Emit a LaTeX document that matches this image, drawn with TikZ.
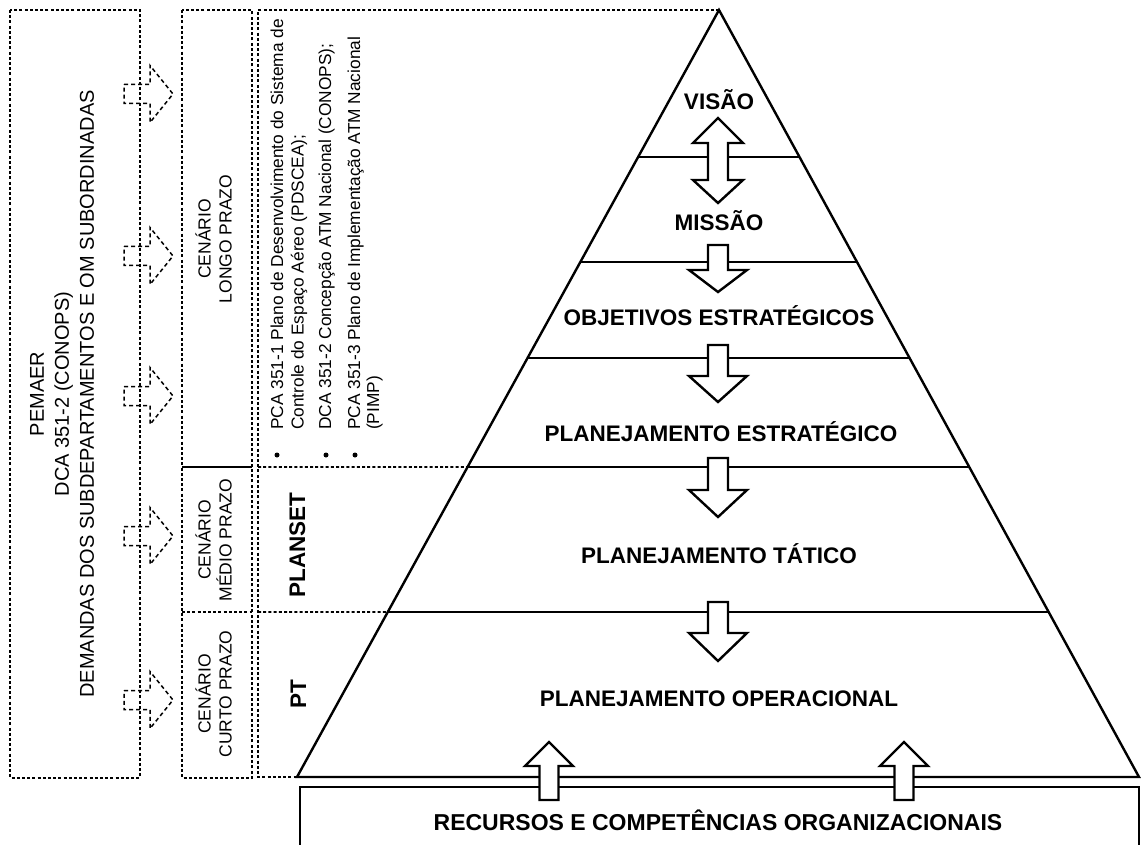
\documentclass[tikz,border=0pt]{standalone}
\usepackage{fontspec}
\setmainfont{Liberation Sans}
\usetikzlibrary{calc}

\tikzset{
  dotline/.style={line width=1.6pt, dash pattern=on 3pt off 2.2pt},
  dasharrow/.style={line width=1.5pt, dash pattern=on 4pt off 3pt},
  solidline/.style={line width=2.4pt},
  blockarrow/.style={line width=2.4pt, fill=white},
  tierlabel/.style={font=\bfseries\fontsize{22.5}{27}\selectfont, inner sep=0pt, text height=16.1pt, text depth=0pt},
  baselabel/.style={font=\bfseries\fontsize{23}{27}\selectfont, inner sep=0pt, text height=16.5pt, text depth=0pt},
  plantext/.style={tierlabel, rotate=90},
  sidetext/.style={font=\fontsize{20}{25}\selectfont, rotate=90, align=center, inner sep=0pt},
  scentext/.style={font=\fontsize{17.5}{21}\selectfont, rotate=90, align=center, inner sep=0pt},
  doclist/.style={font=\fontsize{17.3}{20}\selectfont, rotate=90, anchor=base west, inner sep=0pt},
  listdot/.style={circle, fill, inner sep=0pt, minimum size=5pt}
}

\begin{document}
\begin{tikzpicture}[x=1pt,y=-1pt]
\useasboundingbox (0,0) rectangle (1141,845);

% columns on the left
\draw[dotline] (10,10) rectangle (140,778);
\draw[dotline] (182,10) rectangle (252,778);
\draw[solidline, line width=1.8pt] (182,467) -- (252,467);
\draw[dotline] (182,612) -- (252,612);

% pyramid
\coordinate (apex) at (719,10);
\coordinate (bl) at (297,777);
\coordinate (br) at (1139,777);
\coordinate (t1l) at ($(apex)!0.19166!(bl)$);
\coordinate (t1r) at ($(apex)!0.19166!(br)$);
\coordinate (t2l) at ($(apex)!0.32855!(bl)$);
\coordinate (t2r) at ($(apex)!0.32855!(br)$);
\coordinate (t3l) at ($(apex)!0.45372!(bl)$);
\coordinate (t3r) at ($(apex)!0.45372!(br)$);
\coordinate (t4l) at ($(apex)!0.59583!(bl)$);
\coordinate (t4r) at ($(apex)!0.59583!(br)$);
\coordinate (t5l) at ($(apex)!0.78488!(bl)$);
\coordinate (t5r) at ($(apex)!0.78488!(br)$);

\draw[dotline] (apex) -- (258,10) -- (258,777) -- (bl);
\draw[dotline] (258,467) -- (t4l);
\draw[dotline] (258,612) -- (t5l);

\draw[solidline] (bl) -- (apex) -- (br) -- cycle;
\draw[solidline] (t1l) -- (t1r);
\draw[solidline] (t2l) -- (t2r);
\draw[solidline] (t3l) -- (t3r);
\draw[solidline] (t4l) -- (t4r);
\draw[solidline] (t5l) -- (t5r);

% base box
\draw[solidline] (300,787) rectangle (1139,870);

% arrows in the pyramid
\draw[blockarrow] (718,118) -- (743,143) -- (728,143) -- (728,180) -- (743,180) -- (718,203) -- (693,180) -- (708,180) -- (708,143) -- (693,143) -- cycle;
\draw[blockarrow] (708,245) -- (728,245) -- (728,270) -- (747,270) -- (718,292) -- (689,270) -- (708,270) -- cycle;
\draw[blockarrow] (708,345) -- (728,345) -- (728,376) -- (747,376) -- (718,402) -- (689,376) -- (708,376) -- cycle;
\draw[blockarrow] (708,458) -- (728,458) -- (728,490) -- (747,490) -- (718,517) -- (689,490) -- (708,490) -- cycle;
\draw[blockarrow] (708,602) -- (728,602) -- (728,633) -- (747,633) -- (718,661) -- (689,633) -- (708,633) -- cycle;
\draw[blockarrow] (539.5,800) -- (539.5,766) -- (525,766) -- (549,742) -- (573,766) -- (558.5,766) -- (558.5,800) -- cycle;
\draw[blockarrow] (894.5,800) -- (894.5,766) -- (880,766) -- (904,742) -- (928,766) -- (913.5,766) -- (913.5,800) -- cycle;

% dashed arrows
\draw[dasharrow] (124,84.5) -- (150,84.5) -- (150,65.5) -- (173,94) -- (150,122.5) -- (150,103.5) -- (124,103.5) -- cycle;
\draw[dasharrow] (124,246.5) -- (150,246.5) -- (150,227.5) -- (173,256) -- (150,284.5) -- (150,265.5) -- (124,265.5) -- cycle;
\draw[dasharrow] (124,386.5) -- (150,386.5) -- (150,367.5) -- (173,396) -- (150,424.5) -- (150,405.5) -- (124,405.5) -- cycle;
\draw[dasharrow] (124,526.5) -- (150,526.5) -- (150,507.5) -- (173,536) -- (150,564.5) -- (150,545.5) -- (124,545.5) -- cycle;
\draw[dasharrow] (124,690.5) -- (150,690.5) -- (150,671.5) -- (173,700) -- (150,728.5) -- (150,709.5) -- (124,709.5) -- cycle;

% texts
\node[sidetext] (demandas) at (62,394) {PEMAER\\DCA 351-2 (CONOPS)\\DEMANDAS DOS SUBDEPARTAMENTOS E OM SUBORDINADAS};
\node[scentext] (longo) at (213.6,239) {CENÁRIO\\LONGO PRAZO};
\node[scentext] (medio) at (213.6,540) {CENÁRIO\\MÉDIO PRAZO};
\node[scentext] (curto) at (213.6,694) {CENÁRIO\\CURTO PRAZO};
\node[plantext] (planset) at (297,545) {PLANSET};
\node[plantext] (pt) at (298,694) {PT};

\node[listdot] (dot1) at (277,455) {};
\node[listdot] (dot2) at (326,455) {};
\node[listdot] (dot3) at (355,455) {};
\node[doclist] (pca1a) at (283,430) {PCA 351-1 Plano de Desenvolvimento do Sistema de};
\node[doclist] (pca1b) at (303.5,430) {Controle do Espaço Aéreo (PDSCEA);};
\node[doclist] (dca2) at (331,430) {DCA 351-2 Concepção ATM Nacional (CONOPS);};
\node[doclist] (pca3a) at (360,430) {PCA 351-3 Plano de Implementação ATM Nacional};
\node[doclist] (pca3b) at (379,430) {(PIMP)};

\node[tierlabel] (visao) at (719,101) {VISÃO};
\node[tierlabel] (missao) at (719,222) {MISSÃO};
\node[tierlabel] (objetivos) at (719,317) {OBJETIVOS ESTRATÉGICOS};
\node[tierlabel] (estrategico) at (721,433) {PLANEJAMENTO ESTRATÉGICO};
\node[tierlabel] (tatico) at (719,555) {PLANEJAMENTO TÁTICO};
\node[tierlabel] (operacional) at (719,698) {PLANEJAMENTO OPERACIONAL};
\node[baselabel] (recursos) at (718,822) {RECURSOS E COMPETÊNCIAS ORGANIZACIONAIS};
\end{tikzpicture}
\end{document}
